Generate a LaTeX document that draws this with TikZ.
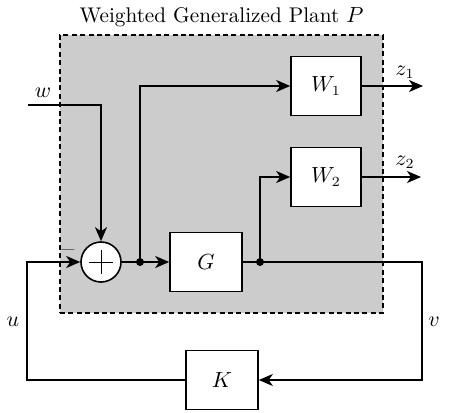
\documentclass[tikz,border=0pt]{standalone}
\usetikzlibrary{arrows.meta}
\begin{document}
\begin{tikzpicture}[x=0.5pt,y=-0.5pt,
  thick,
  font=\fontsize{10.6pt}{13pt}\selectfont,
  >={Stealth[length=7pt,width=6pt,inset=2pt]},
  blockbox/.style={draw,fill=white,minimum width=35pt,minimum height=29.5pt,inner sep=0pt},
  plantbox/.style={draw,fill=gray!40,dash pattern=on 2.5pt off 1.7pt,minimum width=161.5pt,minimum height=139pt,inner sep=0pt},
  sumnode/.style={draw,circle,fill=white,minimum size=20pt,inner sep=0pt},
  dotnode/.style={circle,fill=black,minimum size=4pt,inner sep=0pt},
  lbl/.style={inner sep=1pt}]
\useasboundingbox (0,0) rectangle (449,412);
\node[plantbox] (P) at (221.5,174) {};
\node[lbl] (title) at (221.5,17) {Weighted Generalized Plant $P$};
\node[blockbox] (W1) at (326,86) {$W_1$};
\node[blockbox] (W2) at (326,177) {$W_2$};
\node[blockbox,minimum width=36pt] (G) at (206,262) {$G$};
\node[blockbox,minimum width=36pt] (K) at (222,380) {$K$};
\node[sumnode] (sum) at (101,262) {};
\draw[thin] ([xshift=-6pt]sum.center) -- ([xshift=6pt]sum.center);
\draw[thin] ([yshift=-6pt]sum.center) -- ([yshift=6pt]sum.center);
\node[dotnode] (d1) at (140,262) {};
\node[dotnode] (d2) at (260,262) {};
\coordinate (win) at (28,105);
\coordinate (z1end) at (423,86);
\coordinate (z2end) at (421,177);
\coordinate (rc) at (422,262);
\coordinate (lc) at (27,380);
\node[lbl] (wl) at (43,93) {$w$};
\node[lbl] (z1l) at (405,72) {$z_1$};
\node[lbl] (z2l) at (405,162) {$z_2$};
\node[lbl] (ul) at (13,322) {$u$};
\node[lbl] (vl) at (434,322) {$v$};
\node[lbl,text=gray!70!black] (minus) at (68,250) {$-$};
% connectors
\draw[->] (win) -| (sum.north);
\draw (sum.east) -- (d1.center);
\draw[->] (d1.center) -- (G.west);
\draw[->] (d1.center) |- (W1.west);
\draw (G.east) -- (d2.center);
\draw[->] (d2.center) |- (W2.west);
\draw[->] (W1.east) -- (z1end);
\draw[->] (W2.east) -- (z2end);
\draw[->] (d2.center) -- (rc) |- (K.east);
\draw[->] (K.west) -- (lc) |- (sum.west);
\end{tikzpicture}
\end{document}
